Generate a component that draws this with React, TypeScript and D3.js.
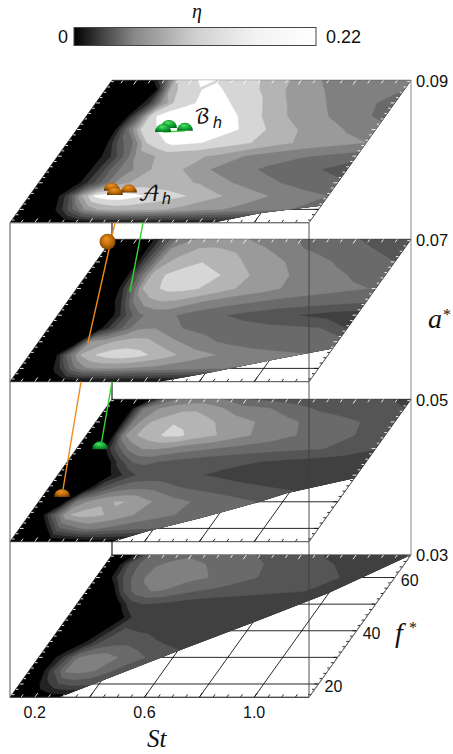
import React, { useRef, useEffect } from 'react';
import * as d3 from 'd3';

// grid the surfaces were read on
const stCols = [0.11, 0.15, 0.2, 0.25, 0.3, 0.35, 0.4, 0.45, 0.5, 0.6, 0.7, 0.8, 0.9, 1.0, 1.1, 1.2];
const fRows = [68.5, 65, 60, 55, 50, 45, 40, 35, 30, 25, 20, 15];

// eta read against the colour bar, in tenths of its 0-0.22 range
const eta09 = [
  [0, 0, 0, 0.2, 3.5, 8, 8.7, 9.3, 8.9, 8.4, 7.6, 6.6, 5.8, 5.4, 5.2, 5.1],
  [0, 0, 0, 0, 1, 7.5, 8.5, 8.9, 9.3, 8.5, 7.8, 6.6, 6.05, 5.5, 5.1, 5],
  [0, 0, 0, 0, 1.5, 6, 8.3, 8.8, 9.2, 9, 8.2, 7.05, 6.3, 5.7, 5.2, 4.6],
  [0, 0, 0, 0, 4, 8.8, 9.4, 9.6, 9.7, 9.5, 8.7, 7.3, 6.6, 5.95, 5.4, 4.6],
  [0, 0, 0, 0.8, 5, 8.5, 9, 9.5, 9.5, 9.4, 9, 8, 7.1, 6.5, 5.9, 5.6],
  [0, 0, 0.1, 0.5, 3.5, 5, 8, 8.8, 9.3, 9, 8.4, 7.9, 7.2, 6.6, 6.3, 6],
  [0, 0, 0, 0.4, 1.8, 4, 6.3, 6.8, 7.4, 7.2, 6.8, 5.9, 5.4, 5.1, 4.8, 4.5],
  [0, 0, 0, 0.4, 2.2, 4.6, 5.6, 6.5, 7.2, 7, 6, 5.4, 4.85, 4.4, 4.05, 3.3],
  [0, 0, 0, 0.5, 2.5, 4.5, 6.4, 7.1, 7.4, 7.3, 6.9, 6.1, 5.5, 4.95, 4.5, 4.3],
  [0, 0, 0, 2.5, 6.8, 9.2, 9.6, 9.6, 9.2, 8.5, 7.9, 7.1, 6.5, 5.9, 5.4, 5],
  [0, 0, 0, 1.2, 3.8, 6.2, 7.1, 7.4, 7.4, 7.2, 6.7, 6.2, 5.8, 5.4, 5, 4.8],
  [0, 0, 0, 0, 0, 0.3, 0.5, 0.6, 0.7, 0.8, 0.9, 1, 1, 1, 1, 1],
];
const eta07 = [
  [0, 0, 0, 0.3, 3, 5.2, 5.9, 6.2, 6.3, 6.05, 5.4, 4.95, 4.5, 4.05, 3.7, 3.5],
  [0, 0, 0, 0.2, 3, 6, 6.5, 7, 7.1, 6.8, 6, 5.15, 4.7, 4.3, 3.95, 3.6],
  [0, 0, 0, 0.1, 3.5, 6.6, 7.3, 7.7, 7.98, 7.4, 6.5, 6, 5.4, 4.85, 4.4, 4],
  [0, 0, 0, 0.1, 4, 7.2, 8.05, 8.4, 8.5, 8, 7.05, 6.3, 5.7, 5.25, 4.85, 4.5],
  [0, 0, 0, 0, 3.3, 7, 7.9, 8.3, 8.25, 7.8, 6.9, 6.35, 5.7, 5.4, 5.15, 4.95],
  [0, 0, 0, 0, 1.5, 5, 6.6, 6.95, 6.85, 6, 5.4, 5, 4.7, 4.5, 4.3, 4.1],
  [0, 0, 0, 0, 0.3, 2.5, 4.7, 5.3, 5.3, 4.6, 4.1, 3.7, 3.3, 2.95, 2.6, 2.4],
  [0, 0, 0, 0, 0.7, 3, 4.8, 5.9, 6, 5, 4.7, 4.4, 4.3, 4.2, 4.05, 3],
  [0, 0, 0, 0, 6.2, 6.6, 7.2, 7.4, 7.3, 6.2, 5.3, 4.8, 4.4, 4.3, 4.3, 4.5],
  [0, 0, 0, 4.3, 7.1, 8, 8.5, 8.6, 8.4, 7.5, 6.5, 5.95, 5.6, 5.3, 5.1, 5],
  [0, 0, 0, 1.5, 4.5, 5.9, 6.05, 6.05, 5.95, 5.7, 5.4, 5.1, 4.9, 4.7, 4.6, 4.5],
  [0, 0, 0, 0, 0.2, 0.4, 0.5, 0.6, 0.6, 0.6, 0.6, 0.6, 0.6, 0.6, 0.6, 0.6],
];
const eta05 = [
  [0, 0, 0, 0.5, 4.2, 5.05, 5.3, 5.4, 5.2, 4.05, 3.7, 3.5, 3.4, 3.3, 3.1, 2.8],
  [0, 0, 0.2, 5, 5.9, 6.5, 6.7, 6.8, 6.4, 5.5, 5.1, 4.4, 3.8, 3.5, 3.3, 3],
  [0, 0, 0.2, 5.4, 6.9, 7.3, 7.95, 7.7, 7.4, 6.5, 5.95, 5.3, 4.7, 4.3, 3.9, 3.5],
  [0, 0, 0, 5.9, 7.1, 7.6, 8.2, 8.2, 7.6, 6.9, 6.05, 5.5, 4.85, 4.4, 3.95, 3.4],
  [0, 0, 0, 3.2, 5.3, 6.05, 6.1, 5.8, 5.5, 5.05, 4.7, 4.4, 4.2, 4.05, 3.7, 3.1],
  [0, 0, 0, 0, 2.5, 4.1, 4.3, 3.95, 3.7, 3.4, 3.2, 3.03, 2.8, 2.6, 2.4, 2.2],
  [0, 0, 0, 0, 0.8, 2.1, 3.1, 3.3, 3.3, 3.1, 2.85, 2.5, 2.4, 2.4, 2.3, 2.1],
  [0, 0, 0, 0.4, 3, 4.3, 4.8, 4.9, 4.8, 4.05, 3.7, 3.4, 3.1, 2.9, 2.7, 2.6],
  [0, 0, 0.2, 5.2, 6.3, 6.9, 7.05, 6.95, 6.2, 5.35, 4.8, 4.4, 4, 3.6, 3.3, 3],
  [0, 0, 3.8, 6.9, 7.4, 7.2, 6.9, 6.4, 5.9, 5.2, 4.7, 4.3, 4, 3.8, 3.6, 3.4],
  [0, 0, 0.2, 3.7, 4.6, 5.3, 5, 4.7, 4.4, 4, 3.7, 3.5, 3.3, 3.2, 3.1, 3],
  [0, 0, 0, 0, 0, 0, 0.4, 0.5, 0.5, 0.5, 0.5, 0.5, 0.5, 0.5, 0.5, 0.5],
];
const eta03 = [
  [0, 0, 1.2, 4.1, 4.5, 4.8, 4.9, 4.7, 4.5, 4.1, 3.8, 3.4, 2.9, 2.7, 2.5, 2.3],
  [0, 0, 3.2, 4.4, 4.95, 5.1, 5.2, 5.1, 4.9, 4.4, 3.95, 3.6, 3.15, 2.8, 2.5, 2.2],
  [0, 0, 2.7, 4.3, 5.2, 5.4, 5.4, 5.3, 5.1, 4.6, 4, 3.6, 3.3, 3, 2.5, 2.2],
  [0, 0, 0, 3.3, 4.7, 5.05, 4.95, 4.5, 4.1, 3.7, 3.4, 3.2, 3.05, 2.7, 2.4, 2.2],
  [0, 0, 0, 0, 2.4, 3, 2.9, 2.7, 2.5, 2.3, 2.3, 2.2, 2.2, 2.1, 2, 2],
  [0, 0, 0, 0, 0.3, 2.2, 2.4, 2.4, 2.3, 2.3, 2.2, 2.2, 2.2, 2.1, 2.1, 2],
  [0, 0, 0, 0, 1.8, 3.2, 2.95, 2.8, 2.6, 2.4, 2.3, 2.2, 2.2, 2.2, 2.2, 2.2],
  [0, 0, 0, 1.5, 3.3, 3.8, 3.9, 3.6, 3.15, 2.7, 2.4, 2.2, 2.2, 2.1, 2.1, 2],
  [0, 0, 2.1, 4.9, 5.5, 5.5, 5, 4.5, 4, 3.4, 3, 2.8, 2.6, 2.4, 2.3, 2.2],
  [0, 0, 3, 5.3, 5.4, 5, 4.2, 3.6, 3.3, 3, 2.8, 2.6, 2.5, 2.4, 2.3, 2.2],
  [0, 0, 1.5, 2.9, 3.4, 3.3, 3.2, 3.1, 3, 3, 3, 3, 3, 3, 3, 3],
  [0, 0, 0.3, 0.3, 0.3, 0.3, 0.3, 0.3, 0.3, 0.3, 0.3, 0.3, 0.3, 0.3, 0.3, 0.3],
];

// [f*, St] where each surface stops at the lower right
const edge09 = [[15, 0.85], [18.6, 1.0], [21.4, 1.2]];
const edge07 = [[15, 0.657], [18.2, 0.805], [23.2, 1.013], [27.5, 1.2]];
const edge05 = [[15, 0.485], [18.8, 0.582], [23.8, 0.741], [30, 0.917], [33.2, 0.992], [38.8, 1.2]];
const edge03 = [[15, 0.292], [20.9, 0.397], [32.2, 0.598], [43.4, 0.806], [54.1, 0.998], [68.5, 1.2]];

const aLevels = [0.09, 0.07, 0.05, 0.03];
const aBase = [222.7, 381.7, 541.7, 697.3];
const aLabels = ['0.09', '0.07', '0.05', '0.03'];
const stLabels = [0.2, 0.6, 1.0];
const fLabels = [20, 40, 60];
const stGrid = [0.2, 0.4, 0.6, 0.8, 1.0];
const fGrid = [20, 30, 40, 50, 60];

// markers: [St, f*, a*]
const orangeCaps = [[0.398, 27, 0.09], [0.465, 26.3, 0.09], [0.42, 25.4, 0.09], [0.183, 31.8, 0.05]];
const greenCaps = [[0.442, 50.6, 0.09], [0.508, 49.5, 0.09], [0.431, 49.1, 0.09], [0.197, 49.7, 0.05]];
const orangeBall = [0.1, 67.6, 0.07];
const orangeLines = [
  [[0.493, 15, 0.09], [0.293, 29.5, 0.07]],
  [[0.369, 15, 0.07], [0.168, 34.4, 0.05]],
];
const greenLines = [
  [[0.595, 15, 0.09], [0.313, 48.7, 0.07]],
  [[0.482, 15, 0.07], [0.189, 51.4, 0.05]],
  [[0.431, 49.1, 0.09], [0.508, 49.5, 0.09]],
];

const bandColors = ['#000', '#222', '#404040', '#555', '#6a6a6a', '#808080', '#9a9a9a', '#b4b4b4', '#d6d6d6', '#fff'];
const barStops = [[0, '#000'], [0.12, '#444'], [0.25, '#888'], [0.5, '#cfcfcf'], [0.75, '#f3f3f3'], [1, '#fff']];

const xSt = d3.scaleLinear().domain([0.11, 1.2]).range([10, 309]);
const xDepth = d3.scaleLinear().domain([15, 68.5]).range([0, 102]);
const yDepth = d3.scaleLinear().domain([15, 68.5]).range([0, 142.4]);
const yA = d3.scaleLinear().domain(aLevels).range(aBase);
const project = (st, f, a) => [xSt(st) + xDepth(f), yA(a) - yDepth(f)];

const iSt = d3.scaleLinear().domain(d3.range(stCols.length)).range(stCols).clamp(true);
const iF = d3.scaleLinear().domain(d3.range(fRows.length)).range(fRows).clamp(true);

const mathFont = '"Liberation Serif", serif';
const sansFont = '"Liberation Sans", sans-serif';
const scriptFont = '"DejaVu Math TeX Gyre", "DejaVu Serif", serif';

const App = () => {
  const svgRef = useRef();

  useEffect(() => {
    const svg = d3.select(svgRef.current);
    svg.selectAll('*').remove();
    const defs = svg.append('defs');

    const segment = (g, p, q, stroke, width) =>
      g.append('line')
        .attr('x1', p[0]).attr('y1', p[1])
        .attr('x2', q[0]).attr('y2', q[1])
        .attr('stroke', stroke).attr('stroke-width', width);

    // back vertical of the box, behind every surface
    const backLeft = project(0.11, 68.5, 0.03);
    segment(svg, [backLeft[0], yA(0.09)], backLeft, '#777', 2);

    const tickMarks = (g, a, stroke) => {
      d3.range(0.15, 1.2, 0.05).forEach((st) => {
        const major = Math.abs((st * 5) - Math.round(st * 5)) < 0.01;
        segment(g, project(st, 15, a), project(st, major ? 16.6 : 16.1, a), stroke, 0.9);
        segment(g, project(st, 68.5, a), project(st, major ? 66.9 : 67.4, a), stroke, 0.9);
      });
      d3.range(16, 68.5, 2).forEach((f) => {
        const major = f % 10 === 0;
        segment(g, project(0.11, f, a), project(major ? 0.125 : 0.12, f, a), stroke, 0.9);
        segment(g, project(1.2, f, a), project(major ? 1.185 : 1.19, f, a), stroke, 0.9);
      });
    };

    const layers = [
      { a: 0.03, eta: eta03, edge: edge03 },
      { a: 0.05, eta: eta05, edge: edge05 },
      { a: 0.07, eta: eta07, edge: edge07 },
      { a: 0.09, eta: eta09, edge: edge09 },
    ];

    layers.forEach(({ a, eta, edge }, li) => {
      const g = svg.append('g').attr('class', `layer-${a}`);

      // floor grid, only seen where the surface has no data
      stGrid.forEach((st) => segment(g, project(st, 15, a), project(st, 68.5, a), '#111', 0.9));
      fGrid.forEach((f) => segment(g, project(0.11, f, a), project(1.2, f, a), '#111', 0.9));
      tickMarks(g, a, '#111');

      const outline = [
        project(0.11, 15, a), project(1.2, 15, a), project(1.2, 68.5, a), project(0.11, 68.5, a),
      ];
      g.append('path')
        .attr('d', d3.line()(outline) + 'Z')
        .attr('fill', 'none')
        .attr('stroke', '#333')
        .attr('stroke-width', 0.9);

      const region = [
        ...edge.map(([f, st]) => project(st, f, a)),
        project(1.2, 68.5, a),
        project(0.11, 68.5, a),
        project(0.11, 15, a),
      ];
      const clipId = `surface-${li}`;
      defs.append('clipPath').attr('id', clipId)
        .append('path').attr('d', d3.line()(region) + 'Z');

      const surface = g.append('g').attr('clip-path', `url(#${clipId})`);
      surface.append('path').attr('d', d3.line()(region) + 'Z').attr('fill', bandColors[0]);

      const toScreen = d3.geoTransform({
        point(x, y) {
          const [px, py] = project(iSt(x - 0.5), iF(y - 0.5), a);
          this.stream.point(px, py);
        },
      });
      const path = d3.geoPath(toScreen);
      const contours = d3.contours()
        .size([stCols.length, fRows.length])
        .thresholds(d3.range(1, bandColors.length))(eta.flat());

      surface.selectAll('path.band')
        .data(contours)
        .enter()
        .append('path')
        .attr('class', 'band')
        .attr('d', path)
        .attr('fill', (d) => bandColors[d.value])
        .attr('stroke', (d) => bandColors[d.value])
        .attr('stroke-width', 0.3);

      tickMarks(surface, a, '#fff');
    });

    // front edges of the box, drawn over the surfaces
    segment(svg, project(0.11, 15, 0.09), project(0.11, 15, 0.03), '#555', 1);
    segment(svg, project(1.2, 15, 0.09), project(1.2, 15, 0.03), 'rgba(60,60,60,0.75)', 1.2);
    segment(svg, project(1.2, 68.5, 0.09), project(1.2, 68.5, 0.03), '#888', 1);
    segment(svg, project(0.11, 15, 0.09), project(1.2, 15, 0.09), '#777', 1);
    segment(svg, project(1.2, 15, 0.03), project(1.2, 68.5, 0.03), '#777', 1);
    segment(svg, project(0.11, 15, 0.03), project(1.2, 15, 0.03), '#444', 1);

    // tracks between the surfaces
    orangeLines.forEach(([p, q]) => segment(svg, project(p[0], p[1], p[2]), project(q[0], q[1], q[2]), '#f28c1e', 1.4));
    greenLines.forEach(([p, q]) => segment(svg, project(p[0], p[1], p[2]), project(q[0], q[1], q[2]), '#35d435', 1.4));

    const addGlow = (id, colors) => {
      const grad = defs.append('radialGradient').attr('id', id)
        .attr('cx', '0.5').attr('cy', '0.5').attr('r', '0.62')
        .attr('fx', '0.42').attr('fy', '0.3');
      colors.forEach(([o, c]) => grad.append('stop').attr('offset', o).attr('stop-color', c));
    };
    addGlow('orangeBall', [[0, '#f0962a'], [0.55, '#bd6a0c'], [1, '#5e3300']]);
    addGlow('greenBall', [[0, '#4fe868'], [0.55, '#12a533'], [1, '#075c22']]);

    const capRadius = 8;
    const drawCaps = (pts, fill) => {
      svg.append('g').selectAll('path')
        .data(pts)
        .enter()
        .append('path')
        .attr('d', (d) => {
          const [cx, cy] = project(d[0], d[1], d[2]);
          const p = d3.path();
          p.arc(cx, cy, capRadius, Math.PI, 2 * Math.PI);
          p.closePath();
          return p.toString();
        })
        .attr('fill', `url(#${fill})`);
    };
    drawCaps(orangeCaps, 'orangeBall');
    drawCaps(greenCaps, 'greenBall');

    const ball = project(orangeBall[0], orangeBall[1], orangeBall[2]);
    svg.append('circle')
      .attr('cx', ball[0]).attr('cy', ball[1]).attr('r', 8)
      .attr('fill', 'url(#orangeBall)');

    // labels
    const label = (x, y, text, size, font, style = 'normal', anchor = 'start') =>
      svg.append('text')
        .attr('x', x).attr('y', y)
        .attr('font-family', font).attr('font-size', size)
        .attr('font-style', style).attr('text-anchor', anchor)
        .attr('fill', '#111')
        .text(text);

    aLevels.forEach((a, i) => {
      label(416, project(1.2, 68.5, a)[1] + 6.2, aLabels[i], 16.5, sansFont);
    });
    stLabels.forEach((st) => {
      label(xSt(st), 718, d3.format('.1f')(st), 16, sansFont, 'normal', 'middle');
    });
    fLabels.forEach((f) => {
      const [px, py] = project(1.2, f, 0.03);
      label(px + 6, py + 8.5, String(f), 16, sansFont);
    });

    label(147, 747, 'St', 25, mathFont, 'italic');
    label(395, 642, 'f', 28, mathFont, 'italic');
    label(409, 633, '*', 16, mathFont);
    label(428, 328, 'a', 28, mathFont, 'italic');
    label(443, 320, '*', 16, mathFont);
    label(192, 18, 'η', 20, mathFont, 'italic');

    label(138, 201, '𝒜', 21, scriptFont);
    label(162, 204, 'h', 16, sansFont, 'italic');
    label(194, 123, 'ℬ', 20, scriptFont);
    label(213, 128, 'h', 16, sansFont, 'italic');

    // colour bar
    const grad = defs.append('linearGradient').attr('id', 'etaBar');
    barStops.forEach(([o, c]) => grad.append('stop').attr('offset', o).attr('stop-color', c));
    svg.append('rect')
      .attr('x', 74).attr('y', 27.5).attr('width', 242).attr('height', 18)
      .attr('fill', 'url(#etaBar)')
      .attr('stroke', '#444').attr('stroke-width', 1);
    label(58, 43, '0', 18, sansFont);
    label(326, 43, '0.22', 18, sansFont);
  }, []);

  return (
    <svg
      ref={svgRef}
      width={453}
      height={754}
      style={{ position: 'absolute', left: 0, top: 0, background: '#fff' }}
    />
  );
};

export default App;
